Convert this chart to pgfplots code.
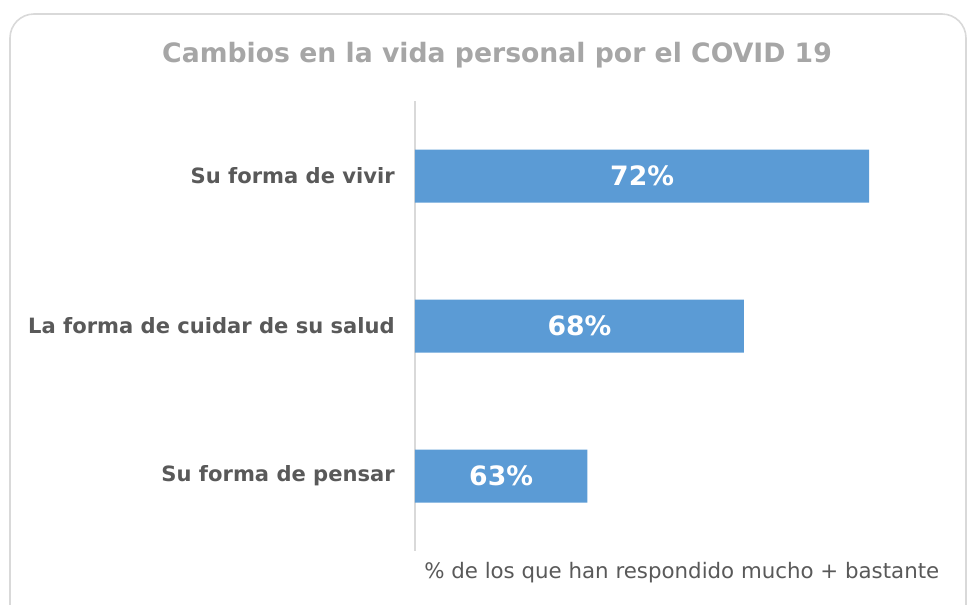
\documentclass[border=0pt]{standalone}
\usepackage{pgfplots}
\pgfplotsset{compat=1.18}
\usepackage{fontspec}
\setmainfont{DejaVu Sans}
\definecolor{barblue}{HTML}{5B9BD5}
\definecolor{titlegray}{HTML}{A6A6A6}
\definecolor{labelgray}{HTML}{595959}
\definecolor{framegray}{HTML}{D9D9D9}
\begin{document}
\begin{tikzpicture}[x=0.75pt,y=-0.75pt]
\path[use as bounding box] (0,0) rectangle (968,604);
\begin{scope}
\clip (0,0) rectangle (968,604);
\draw[framegray, line width=1.2pt, rounded corners=18pt] (10,14) rectangle (966,640);
\end{scope}
\node[titlegray, font=\fontsize{20}{24}\selectfont\bfseries, anchor=base, inner sep=0pt] at (497,62) {Cambios en la vida personal por el COVID 19};
\begin{axis}[
    at={(311.25pt,-75.75pt)}, anchor=north west,
    scale only axis,
    width=390pt, height=337.5pt,
    xmin=57.5, xmax=74.1,
    ymin=-0.5, ymax=2.5,
    y dir=reverse,
    axis x line=none,
    axis y line=left,
    axis line style={draw=framegray, line width=1pt, -},
    ytick={0,1,2},
    yticklabels={Su forma de vivir, La forma de cuidar de su salud, Su forma de pensar},
    major tick length=0pt,
    y tick label style={font=\fontsize{15.8}{18}\selectfont\bfseries, text=labelgray, inner sep=0pt, xshift=-15pt},
    clip=false,
]
\addplot[xbar, bar width=39.75pt, fill=barblue, draw=none] coordinates {
    (72,0) (68,1) (63,2)
};
% label positions: middle of each bar
\addplot[draw=none, mark=none, nodes near coords, point meta=explicit symbolic,
    every node near coord/.append style={anchor=center, text=white, font=\fontsize{20}{24}\selectfont\bfseries}]
coordinates {
    (64.75,0) [72\%]
    (62.75,1) [68\%]
    (60.25,2) [63\%]
};
\end{axis}
\node[labelgray, font=\fontsize{16}{19}\selectfont, anchor=base west, inner sep=0pt] at (424,578) {\% de los que han respondido mucho + bastante};
\end{tikzpicture}
\end{document}
